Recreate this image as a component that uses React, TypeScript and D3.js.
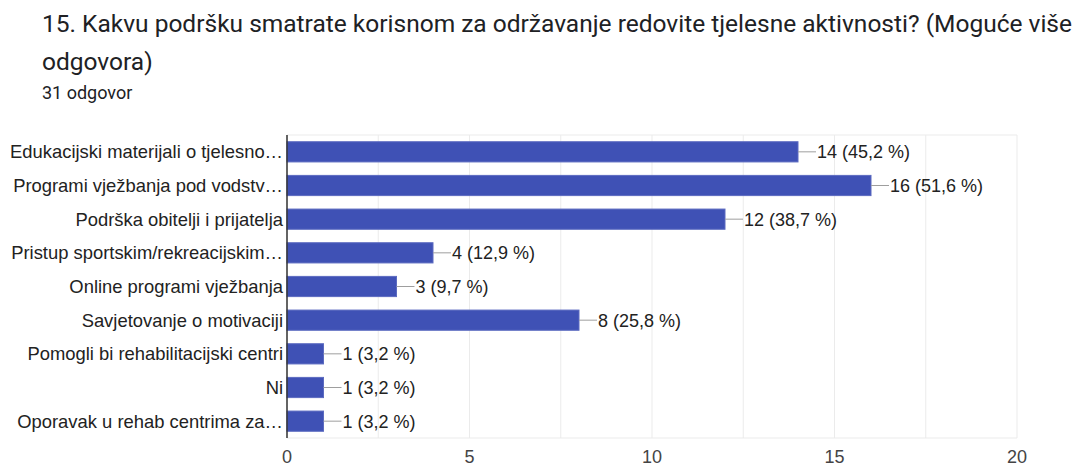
import React from "react";
import * as d3 from "d3";

const categories = [
  "Edukacijski materijali o tjelesno…",
  "Programi vježbanja pod vodstv…",
  "Podrška obitelji i prijatelja",
  "Pristup sportskim/rekreacijskim…",
  "Online programi vježbanja",
  "Savjetovanje o motivaciji",
  "Pomogli bi rehabilitacijski centri",
  "Ni",
  "Oporavak u rehab centrima za…",
];
const values = [14, 16, 12, 4, 3, 8, 1, 1, 1];
const percents = ["45,2", "51,6", "38,7", "12,9", "9,7", "25,8", "3,2", "3,2", "3,2"];
const xTicks = [0, 5, 10, 15, 20];
const gridTicks = [0, 2.5, 5, 7.5, 10, 12.5, 15, 17.5, 20];

const W = 1080;
const H = 464;
const left = 287;
const right = 1017;
const top = 135;
const bottom = 438;

export default function App() {
  const x = d3.scaleLinear().domain([0, 20]).range([left, right]);
  const y = d3.scaleBand<string>().domain(categories).range([top, bottom]).paddingInner(0.4).paddingOuter(0.2);
  const labelFont = "Arial, 'Liberation Sans', sans-serif";
  return (
    <svg width={W} height={H} style={{ position: "absolute", left: 0, top: 0, background: "#fff" }}>
      <text x={42} y={32} fontFamily="Roboto, sans-serif" fontSize={24.5} fill="#202124">
        15. Kakvu podršku smatrate korisnom za održavanje redovite tjelesne aktivnosti? (Moguće više
      </text>
      <text x={42} y={70} fontFamily="Roboto, sans-serif" fontSize={24.5} fill="#202124">
        odgovora)
      </text>
      <text x={42} y={99} fontFamily="Roboto, sans-serif" fontSize={18} fill="#202124">
        31 odgovor
      </text>
      {gridTicks.map((t) => (
        <line key={"g" + t} x1={x(t)} x2={x(t)} y1={top} y2={bottom} stroke="#ebebeb" strokeWidth={1} />
      ))}
      <line x1={left} x2={right} y1={top} y2={top} stroke="#ebebeb" />
      <line x1={left} x2={right} y1={bottom} y2={bottom} stroke="#ebebeb" />
      {categories.map((c, i) => {
        const yy = y(c)!;
        const bh = y.bandwidth();
        const xe = x(values[i]);
        const cy = yy + bh / 2;
        return (
          <g key={c}>
            <rect x={left} y={yy} width={xe - left} height={bh} fill="#3f51b5" stroke="#5c6bc0" strokeWidth={1} />
            <line x1={xe} x2={xe + 18} y1={cy} y2={cy} stroke="#9e9e9e" strokeWidth={1} />
            <text x={xe + 19} y={cy} dy="0.36em" fontFamily={labelFont} fontSize={18} fill="#222">
              {`${values[i]} (${percents[i]} %)`}
            </text>
            <text x={283} y={cy} dy="0.36em" textAnchor="end" fontFamily={labelFont} fontSize={18.4} fill="#222">
              {c}
            </text>
          </g>
        );
      })}
      <line x1={left} x2={left} y1={top} y2={bottom} stroke="#333" strokeWidth={1.5} />
      {xTicks.map((t) => (
        <text key={"t" + t} x={x(t)} y={463} textAnchor="middle" fontFamily={labelFont} fontSize={18} fill="#444">
          {t}
        </text>
      ))}
    </svg>
  );
}
